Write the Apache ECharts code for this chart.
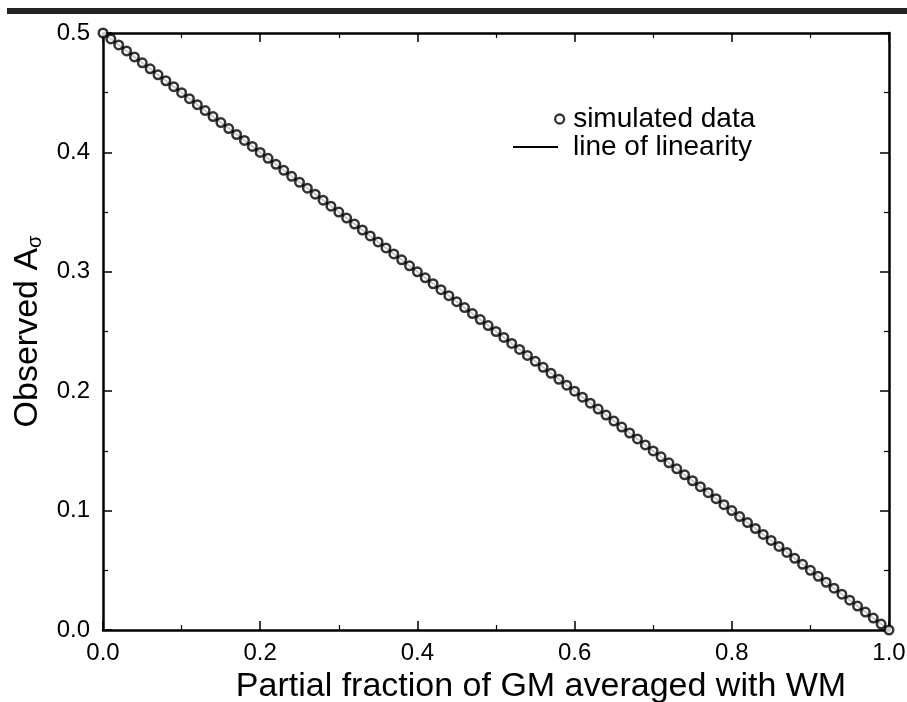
<!DOCTYPE html>
<html>
<head>
<meta charset="utf-8">
<script src="https://cdn.jsdelivr.net/npm/echarts@6/dist/echarts.min.js"></script>
<style>html,body{margin:0;padding:0;background:#fff;}#c{width:907px;height:702px;}</style>
</head>
<body>
<div id="c"></div>
<script>
var xValues = [0.00,0.01,0.02,0.03,0.04,0.05,0.06,0.07,0.08,0.09,0.10,0.11,0.12,0.13,0.14,0.15,0.16,0.17,0.18,0.19,0.20,0.21,0.22,0.23,0.24,0.25,0.26,0.27,0.28,0.29,0.30,0.31,0.32,0.33,0.34,0.35,0.36,0.37,0.38,0.39,0.40,0.41,0.42,0.43,0.44,0.45,0.46,0.47,0.48,0.49,0.50,0.51,0.52,0.53,0.54,0.55,0.56,0.57,0.58,0.59,0.60,0.61,0.62,0.63,0.64,0.65,0.66,0.67,0.68,0.69,0.70,0.71,0.72,0.73,0.74,0.75,0.76,0.77,0.78,0.79,0.80,0.81,0.82,0.83,0.84,0.85,0.86,0.87,0.88,0.89,0.90,0.91,0.92,0.93,0.94,0.95,0.96,0.97,0.98,0.99,1.00];
var simulatedValues = [0.500,0.495,0.490,0.485,0.480,0.475,0.470,0.465,0.460,0.455,0.450,0.445,0.440,0.435,0.430,0.425,0.420,0.415,0.410,0.405,0.400,0.395,0.390,0.385,0.380,0.375,0.370,0.365,0.360,0.355,0.350,0.345,0.340,0.335,0.330,0.325,0.320,0.315,0.310,0.305,0.300,0.295,0.290,0.285,0.280,0.275,0.270,0.265,0.260,0.255,0.250,0.245,0.240,0.235,0.230,0.225,0.220,0.215,0.210,0.205,0.200,0.195,0.190,0.185,0.180,0.175,0.170,0.165,0.160,0.155,0.150,0.145,0.140,0.135,0.130,0.125,0.120,0.115,0.110,0.105,0.100,0.095,0.090,0.085,0.080,0.075,0.070,0.065,0.060,0.055,0.050,0.045,0.040,0.035,0.030,0.025,0.020,0.015,0.010,0.005,0.000];
var lineX = [0.0, 1.0];
var lineY = [0.5, 0.0];
var seriesNames = ['simulated data', 'line of linearity'];
var xTitle = 'Partial fraction of GM averaged with WM';

var FONT = '"Liberation Sans", Arial, Helvetica, sans-serif';
var simData = xValues.map(function (x, i) { return [x, simulatedValues[i]]; });
var linData = lineX.map(function (x, i) { return [x, lineY[i]]; });

function fmt(v) { return v.toFixed(1); }
function axisBase(extra) {
  var a = {
    type: 'value',
    axisLine: { show: true, onZero: false, lineStyle: { color: '#000', width: 2.5 } },
    axisTick: { show: true, inside: true, length: 9, lineStyle: { color: '#000', width: 1.5 } },
    minorTick: { show: true, splitNumber: 2, length: 5, lineStyle: { color: '#000', width: 1.2 } },
    splitLine: { show: false },
    axisLabel: { show: false }
  };
  for (var k in extra) a[k] = extra[k];
  return a;
}

var chart = echarts.init(document.getElementById('c'), null, { renderer: 'canvas' });
chart.setOption({
  backgroundColor: '#fff',
  animation: false,
  graphic: [{ type: 'rect', left: 7, top: 8, shape: { width: 900, height: 6 }, style: { fill: '#222' } }],
  grid: { left: 103, right: 18, top: 33, bottom: 72, containLabel: false, outerBoundsMode: 'none' },
  xAxis: [
    axisBase({ min: 0, max: 1, interval: 0.2, position: 'bottom',
      name: xTitle, nameLocation: 'middle', nameGap: 35,
      nameTextStyle: { color: '#000', fontFamily: FONT, fontSize: 34, padding: [0, 0, 0, 90] },
      axisLabel: { show: true, color: '#000', fontFamily: FONT, fontSize: 24, margin: 11, formatter: fmt } }),
    axisBase({ min: 0, max: 1, interval: 0.2, position: 'top' })
  ],
  yAxis: [
    axisBase({ min: 0, max: 0.5, interval: 0.1, position: 'left',
      name: 'Observed A{sub|σ}', nameLocation: 'middle', nameGap: 57, nameRotate: 90,
      nameTextStyle: { color: '#000', fontFamily: FONT, fontSize: 34,
        rich: { sub: { fontFamily: FONT, fontSize: 20, color: '#000', verticalAlign: 'bottom', padding: [16, 0, 0, 0] } } },
      axisLabel: { show: true, color: '#000', fontFamily: FONT, fontSize: 24, margin: 13, formatter: fmt } }),
    axisBase({ min: 0, max: 0.5, interval: 0.1, position: 'right' })
  ],
  legend: [
    { data: [{ name: seriesNames[0], icon: 'circle', itemStyle: { color: '#fff', borderColor: '#000', borderWidth: 2.3 } }],
      left: 549, top: 100, orient: 'vertical', itemWidth: 9, itemHeight: 9,
      textStyle: { color: '#000', fontFamily: FONT, fontSize: 28, padding: [0, 0, 0, 4] } },
    { data: [{ name: seriesNames[1], icon: 'rect', itemStyle: { color: '#000', borderWidth: 0 } }],
      left: 508, top: 128, orient: 'vertical', itemWidth: 45, itemHeight: 2,
      textStyle: { color: '#000', fontFamily: FONT, fontSize: 28, padding: [0, 0, 0, 10] } }
  ],
  series: [
    { name: seriesNames[1], type: 'line', data: linData, xAxisIndex: 0, yAxisIndex: 0,
      symbol: 'none', lineStyle: { color: '#000', width: 2 }, itemStyle: { color: '#000' }, z: 2 },
    { name: seriesNames[0], type: 'scatter', data: simData, xAxisIndex: 0, yAxisIndex: 0,
      symbol: 'circle', symbolSize: 8.5,
      itemStyle: { color: '#fff', borderColor: '#000', borderWidth: 2.5 }, z: 3 }
  ]
});
</script>
</body>
</html>
